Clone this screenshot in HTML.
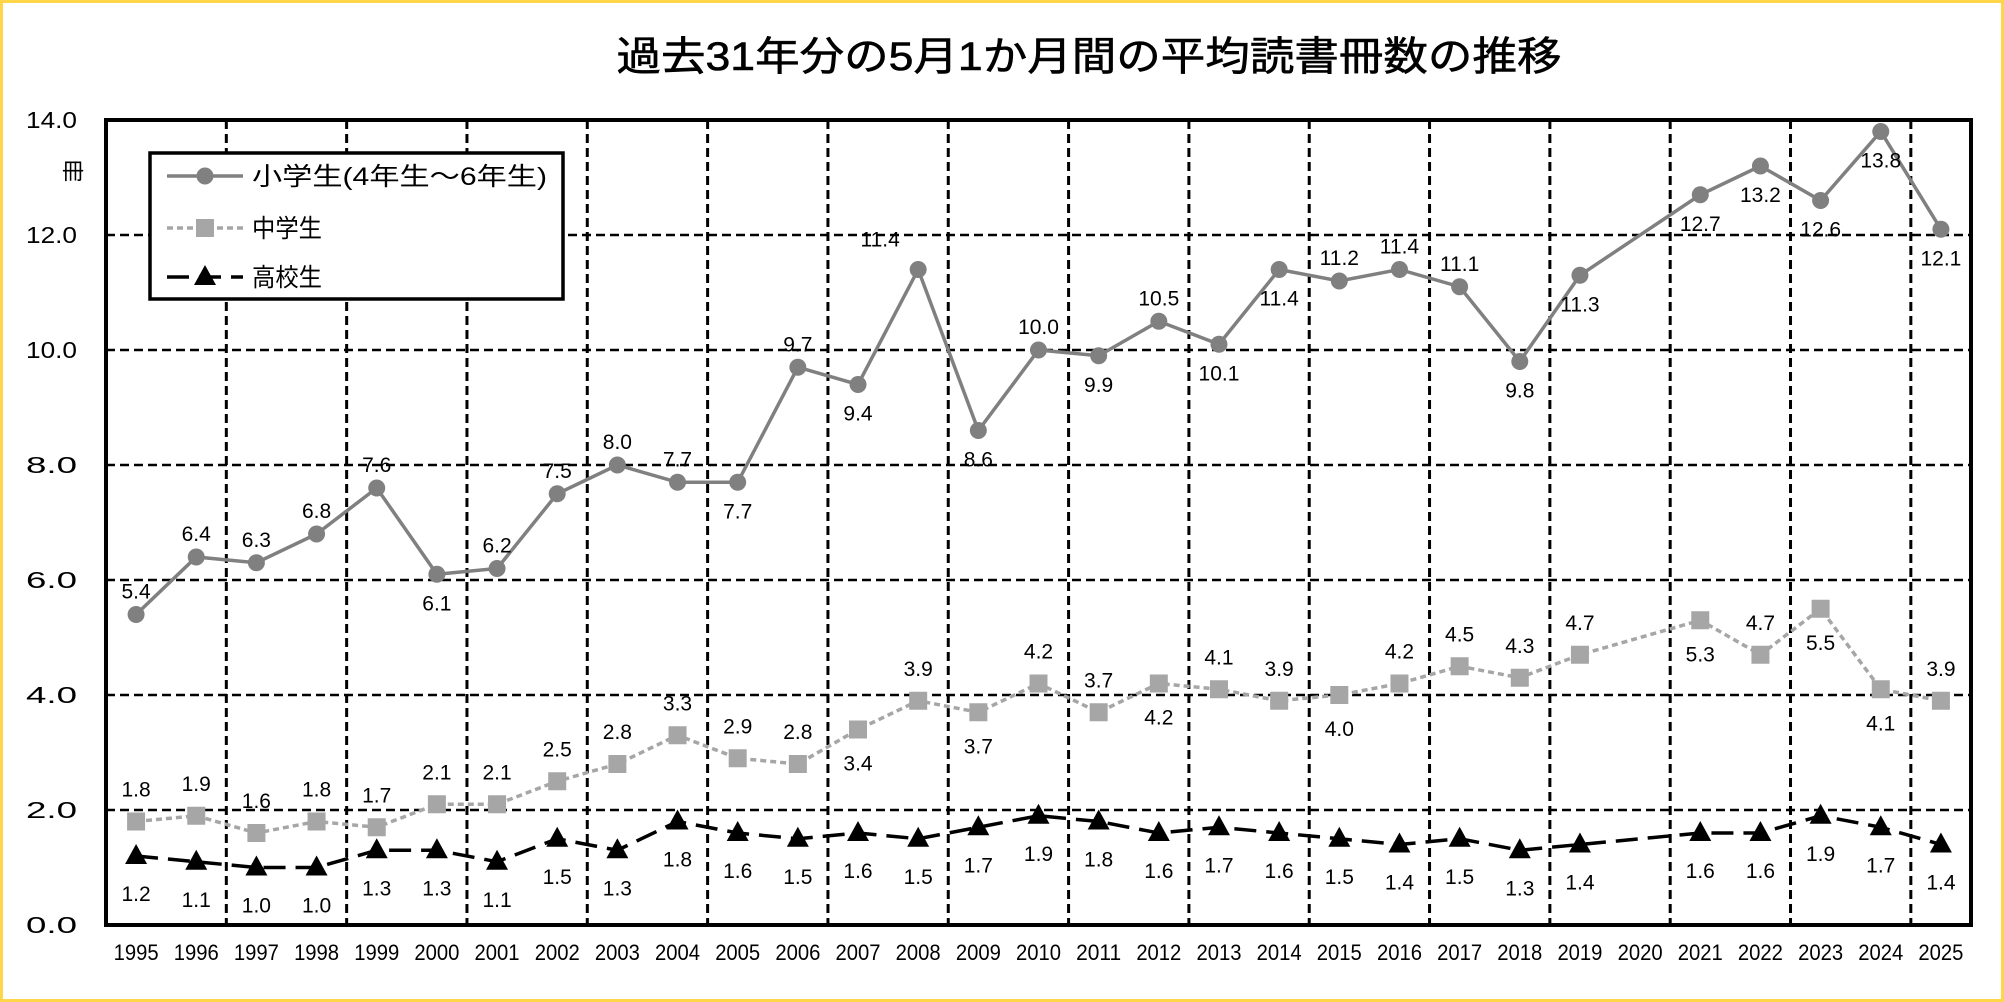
<!DOCTYPE html>
<html><head><meta charset="utf-8"><style>
html,body{margin:0;padding:0;background:#fff;}
#wrap{position:relative;width:2004px;height:1002px;box-sizing:border-box;border:3px solid #FFD54A;background:#fff;overflow:hidden;}
svg{position:absolute;left:-3px;top:-3px;}
text{font-family:"Liberation Sans","Noto Sans CJK JP",sans-serif;fill:#000;}
</style></head><body>
<div id="wrap">
<svg id="chart" width="2004" height="1002"></svg>
</div>
<script>
const years = ["1995","1996","1997","1998","1999","2000","2001","2002","2003","2004","2005","2006","2007","2008","2009","2010","2011","2012","2013","2014","2015","2016","2017","2018","2019","2020","2021","2022","2023","2024","2025"];
const elementary = [5.4,6.4,6.3,6.8,7.6,6.1,6.2,7.5,8.0,7.7,7.7,9.7,9.4,11.4,8.6,10.0,9.9,10.5,10.1,11.4,11.2,11.4,11.1,9.8,11.3,null,12.7,13.2,12.6,13.8,12.1];
const juniorHigh = [1.8,1.9,1.6,1.8,1.7,2.1,2.1,2.5,2.8,3.3,2.9,2.8,3.4,3.9,3.7,4.2,3.7,4.2,4.1,3.9,4.0,4.2,4.5,4.3,4.7,null,5.3,4.7,5.5,4.1,3.9];
const highSchool = [1.2,1.1,1.0,1.0,1.3,1.3,1.1,1.5,1.3,1.8,1.6,1.5,1.6,1.5,1.7,1.9,1.8,1.6,1.7,1.6,1.5,1.4,1.5,1.3,1.4,null,1.6,1.6,1.9,1.7,1.4];
const elemLabelPos = ["a","a","a","a","a","b","a","a","a","a","b","a","b","l","b","a","b","a","b","b","a","a","a","b","b","","b","b","b","b","b"];
const midLabelPos = ["a","a","a","a","a","a","a","a","a","a","a","a","b","a","b","a","a","b","a","a","b","a","a","a","a","","b","a","b","b","a"];
const highLabelPos = ["b","b","b","b","b","b","b","b","b","b","b","b","b","b","b","b","b","b","b","b","b","b","b","b","b","","b","b","b","b","b"];
const yTicks = [0,2,4,6,8,10,12,14];

const NS="http://www.w3.org/2000/svg";
const svg=document.getElementById('chart');
const L=106,R=1971,T=120,B=925,yMax=14;
const cw=(R-L)/years.length;
function xs(i){return L+cw*(i+0.5);}
function ys(v){return B-(v/yMax)*(B-T);}
function mk(tag,attrs,parent){const e=document.createElementNS(NS,tag);for(const k in attrs)e.setAttribute(k,attrs[k]);(parent||svg).appendChild(e);return e;}

let t=mk('text',{x:1089,y:70,'text-anchor':'middle','font-size':40,textLength:945,lengthAdjust:'spacingAndGlyphs',stroke:'#000','stroke-width':0.6});
t.textContent='過去31年分の5月1か月間の平均読書冊数の推移';



yTicks.forEach(v=>{
  if(v>0&&v<yMax){const g=mk('line',{x1:L,x2:R,y1:ys(v),y2:ys(v),stroke:'#000','stroke-width':2.5,'stroke-dasharray':'9,5'});
  
  }
  const lb=mk('text',{x:77,y:ys(v)+8,'text-anchor':'end','font-size':23,textLength:51,lengthAdjust:'spacingAndGlyphs'});
  lb.textContent=v.toFixed(1);
  
  
});
for(let i=2;i<years.length;i+=2){
  const x=L+cw*i;
  const g=mk('line',{x1:x,x2:x,y1:T,y2:B,stroke:'#000','stroke-width':3,'stroke-dasharray':'9,5'});
  
  
}
let u=mk('text',{x:73,y:179,'text-anchor':'middle','font-size':22});
u.textContent='冊';



years.forEach((yr,i)=>{
  const lb=mk('text',{x:xs(i),y:960,'text-anchor':'middle','font-size':22,textLength:45,lengthAdjust:'spacingAndGlyphs'});
  lb.textContent=yr;
  
  
});

function series(data,pos,color,dash,shape,name,above,below){
  const pts=[];data.forEach((v,i)=>{if(v!=null)pts.push([xs(i),ys(v)]);});
  const pl=mk('polyline',{points:pts.map(p=>p.join(',')).join(' '),fill:'none',stroke:color,'stroke-width':3.5,'stroke-dasharray':dash});
  
  
  data.forEach((v,i)=>{
    if(v==null)return;
    const x=xs(i),y=ys(v);let m;
    if(shape==='circle')m=mk('circle',{cx:x,cy:y,r:8.5,fill:color});
    else if(shape==='square')m=mk('rect',{x:x-9,y:y-9,width:18,height:18,fill:color});
    else m=mk('polygon',{points:`${x},${y-12} ${x-11},${y+8} ${x+11},${y+8}`,fill:color});
    
    
    let lx=x,ly=y;
    if(pos[i]==='a')ly=y-above;else if(pos[i]==='b')ly=y+below;else{lx=x-38;ly=y-30;}
    const lb=mk('text',{x:lx,y:ly+7,'text-anchor':'middle','font-size':21});
    lb.textContent=v.toFixed(1);
    
    
  });
}
series(highSchool,highLabelPos,'#000','22,10','tri','high-school',30,38);
series(juniorHigh,midLabelPos,'#A6A6A6','6,4','square','junior-high',32,34);
series(elementary,elemLabelPos,'#808080','none','circle','elementary',23,29);

const bd=mk('rect',{x:L,y:T,width:R-L,height:B-T,fill:'none',stroke:'#000','stroke-width':4});



const lg=mk('g',{});


mk('rect',{x:150,y:153,width:413,height:146,fill:'#fff',stroke:'#000','stroke-width':3.5},lg);
const entries=[['小学生(4年生～6年生)','#808080','none','circle',176,295],['中学生','#A6A6A6','6,4','square',228,70],['高校生','#000','22,10','tri',277,70]];
entries.forEach(e=>{
  const g=mk('g',{},lg);
  
  
  const y=e[4],x=197;
  mk('line',{x1:167,x2:243,y1:y,y2:y,stroke:e[1],'stroke-width':3.5,'stroke-dasharray':e[2]},g);
  if(e[3]==='circle')mk('circle',{cx:x+8,cy:y,r:8.5,fill:e[1]},g);
  else if(e[3]==='square')mk('rect',{x:x-1,y:y-9,width:18,height:18,fill:e[1]},g);
  else mk('polygon',{points:`${x+8},${y-12} ${x-3},${y+8} ${x+19},${y+8}`,fill:e[1]},g);
  const tx=mk('text',{x:252,y:y+9,'font-size':25,textLength:e[5],lengthAdjust:'spacingAndGlyphs'},g);
  tx.textContent=e[0];
});
</script>
</body></html>
